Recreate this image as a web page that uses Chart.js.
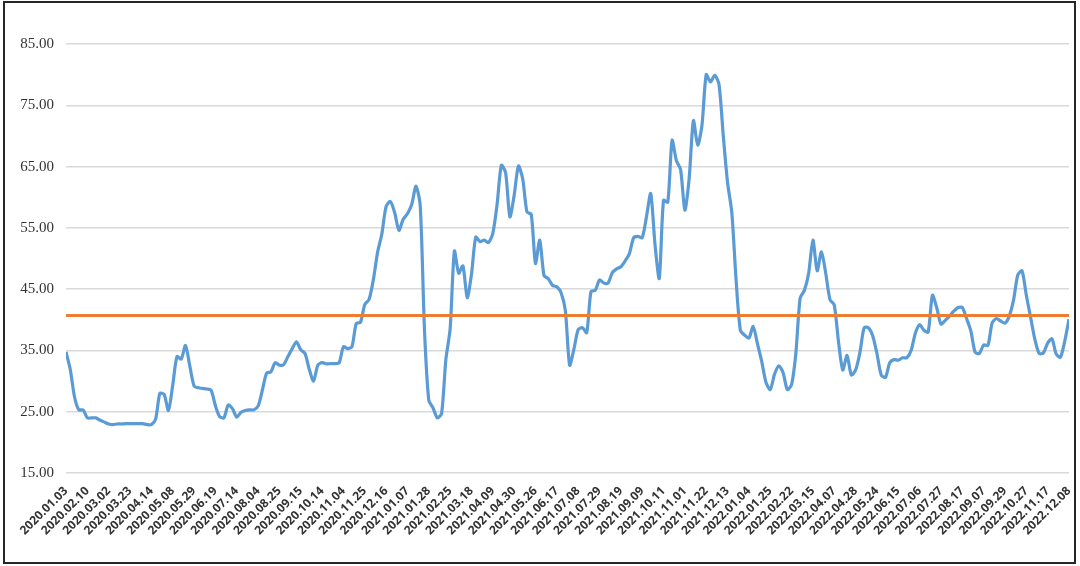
<!DOCTYPE html>
<html>
<head>
<meta charset="utf-8">
<script src="https://cdn.jsdelivr.net/npm/chart.js@4.4.1/dist/chart.umd.min.js"></script>
<style>
  html, body { margin: 0; padding: 0; background: #fff; }
  #wrap { position: relative; width: 1080px; height: 566px; }
  #frame { position: absolute; left: 3px; top: 1px; width: 1069px; height: 559px; border: 2px solid #262626; pointer-events: none; }
</style>
</head>
<body>
<div id="wrap">
  <canvas id="chart"></canvas>
  <div id="frame"></div>
</div>
<script>
// Tick labels shown on the x axis (one every 5 points)
const tickLabels = [
    '2020.01.03', '2020.02.10', '2020.03.02', '2020.03.23', '2020.04.14', '2020.05.08', '2020.05.29', '2020.06.19',
    '2020.07.14', '2020.08.04', '2020.08.25', '2020.09.15', '2020.10.14', '2020.11.04', '2020.11.25', '2020.12.16',
    '2021.01.07', '2021.01.28', '2021.02.25', '2021.03.18', '2021.04.09', '2021.04.30', '2021.05.26', '2021.06.17',
    '2021.07.08', '2021.07.29', '2021.08.19', '2021.09.09', '2021.10.11', '2021.11.01', '2021.11.22', '2021.12.13',
    '2022.01.04', '2022.01.25', '2022.02.22', '2022.03.15', '2022.04.07', '2022.04.28', '2022.05.24', '2022.06.15',
    '2022.07.06', '2022.07.27', '2022.08.17', '2022.09.07', '2022.09.29', '2022.10.27', '2022.11.17', '2022.12.08'
];
const pointsPerTick = 5;

// Series values
const seriesValues = [
    34.75, 31.9, 27.4, 25.3, 25.3, 24.0, 24.0, 24.0, 23.6, 23.3,
    23.0, 22.9, 23.0, 23.0, 23.05, 23.05, 23.05, 23.05, 23.05, 22.9,
    22.9, 23.8, 28.0, 27.8, 25.2, 29.3, 34.0, 33.6, 35.8, 32.5,
    29.2, 28.9, 28.8, 28.7, 28.5, 26.0, 24.2, 24.0, 26.1, 25.5,
    24.1, 24.9, 25.2, 25.3, 25.3, 25.9, 28.5, 31.3, 31.5, 33.0,
    32.6, 32.7, 34.0, 35.3, 36.4, 35.1, 34.5, 31.9, 30.0, 32.6,
    33.0, 32.8, 32.85, 32.85, 33.0, 35.6, 35.3, 35.6, 39.4, 39.6,
    42.5, 43.3, 46.5, 51.0, 54.0, 58.5, 59.3, 57.5, 54.6, 56.4,
    57.3, 58.8, 61.8, 58.6, 38.2, 26.9, 25.6, 24.0, 24.7, 33.5,
    38.5, 51.2, 47.6, 48.8, 43.6, 47.4, 53.5, 52.75, 53.0, 52.6,
    54.1, 58.8, 65.2, 64.0, 56.8, 60.3, 65.1, 63.0, 57.6, 57.2,
    49.2, 53.0, 47.2, 46.7, 45.6, 45.4, 44.4, 41.5, 32.6, 35.2,
    38.4, 38.7, 37.9, 44.6, 44.8, 46.5, 46.0, 46.0, 47.7, 48.3,
    48.65, 49.6, 50.8, 53.4, 53.6, 53.4, 56.8, 60.6, 52.3, 46.75,
    59.5, 59.2, 69.3, 66.0, 64.5, 57.9, 63.0, 72.5, 68.5, 71.7,
    80.0, 78.8, 79.9, 78.4, 70.0, 62.4, 57.5, 46.5, 38.3, 37.5,
    37.0, 38.9, 36.1, 33.2, 29.8, 28.6, 31.1, 32.5, 31.4, 28.6,
    29.4, 34.5, 43.5, 44.8, 47.6, 53.0, 48.0, 51.1, 47.6, 43.3,
    42.4, 36.4, 31.8, 34.2, 31.0, 31.8, 34.6, 38.7, 38.7, 37.4,
    34.5, 31.0, 30.6, 33.0, 33.5, 33.4, 33.8, 33.8, 35.0, 37.8,
    39.2, 38.3, 38.0, 44.0, 42.0, 39.3, 39.9, 40.6, 41.4, 42.0,
    42.0, 40.2, 38.2, 34.7, 34.5, 35.9, 35.8, 39.5, 40.2, 39.8,
    39.45, 40.6, 43.2, 47.3, 48.0, 44.0, 40.4, 36.8, 34.5, 34.6,
    36.2, 36.9, 34.4, 33.9, 36.5, 40.1
];

// Horizontal reference level (orange line)
const referenceLevel = 40.7;

const yTicks = [15, 25, 35, 45, 55, 65, 75, 85];

const lastIndex = seriesValues.length - 1;

const ctx = document.getElementById('chart').getContext('2d');

new Chart(ctx, {
    type: 'line',
    data: {
        datasets: [{
            data: seriesValues.map((v, i) => ({ x: i, y: v })),
            borderColor: '#5B9BD5',
            borderWidth: 3.2,
            pointRadius: 0,
            tension: 0.25,
            fill: false,
            order: 2
        }, {
            data: [{ x: 0, y: referenceLevel }, { x: lastIndex, y: referenceLevel }],
            borderColor: '#ED7D31',
            borderWidth: 3,
            pointRadius: 0,
            tension: 0,
            fill: false,
            order: 1
        }]
    },
    options: {
        responsive: true,
        maintainAspectRatio: false,
        animation: false,
        layout: {
            padding: { left: 0, right: 11, top: 44, bottom: 0 }
        },
        plugins: {
            legend: { display: false },
            tooltip: { enabled: false }
        },
        scales: {
            x: {
                type: 'linear',
                min: 0,
                max: lastIndex,
                grid: { display: false, drawTicks: false },
                border: { display: false },
                afterBuildTicks: (scale) => {
                    scale.ticks = tickLabels.map((_, i) => ({ value: i * pointsPerTick }));
                },
                afterFit: (scale) => {
                    scale.height = 93;
                    // labels may hang past the plot edges, like the original
                    scale.paddingLeft = 0;
                    scale.paddingRight = 0;
                },
                ticks: {
                    autoSkip: false,
                    minRotation: 45,
                    maxRotation: 45,
                    padding: 11,
                    color: '#333333',
                    font: { family: "'Open Sans', sans-serif", size: 12, weight: 'bold' },
                    callback: (value) => tickLabels[value / pointsPerTick]
                }
            },
            y: {
                min: 15,
                max: 85,
                afterBuildTicks: (scale) => {
                    scale.ticks = yTicks.map((v) => ({ value: v }));
                },
                afterFit: (scale) => {
                    scale.width = 66;
                    scale.paddingTop = 0;
                    scale.paddingBottom = 0;
                },
                grid: {
                    color: '#d9d9d9',
                    lineWidth: 1.5,
                    drawTicks: false
                },
                border: { display: false },
                ticks: {
                    padding: 12,
                    color: '#333333',
                    font: { family: "'Liberation Serif', serif", size: 15 },
                    callback: (value) => value.toFixed(2)
                }
            }
        }
    }
});
</script>
</body>
</html>
